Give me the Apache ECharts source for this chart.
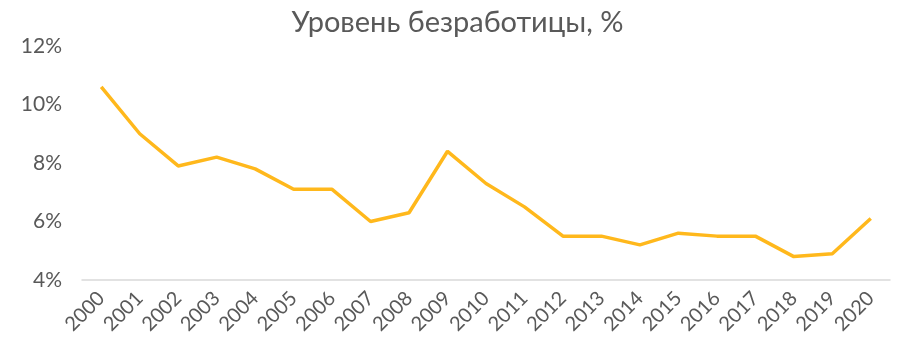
<!DOCTYPE html>
<html><head><meta charset="utf-8">
<script src="https://cdn.jsdelivr.net/npm/echarts@6/dist/echarts.min.js"></script>
<style>html,body{margin:0;padding:0;background:#fff}#c{width:915px;height:353px}</style>
</head><body><div id="c"></div>
<script>
const years = ['2000','2001','2002','2003','2004','2005','2006','2007','2008','2009','2010','2011','2012','2013','2014','2015','2016','2017','2018','2019','2020'];
const unemployment = [10.6,9.0,7.9,8.2,7.8,7.1,7.1,6.0,6.3,8.4,7.3,6.5,5.5,5.5,5.2,5.6,5.5,5.5,4.8,4.9,6.1];
const titleText = 'Уровень безработицы, %';
const chart = echarts.init(document.getElementById('c'));
chart.setOption({
  animation:false,
  title:{text:titleText,left:'center',top:3,textStyle:{fontFamily:'Lato',fontWeight:'normal',fontSize:29,color:'#595959'}},
  grid:{left:82,right:25,top:46,bottom:73},
  xAxis:{type:'category',data:years,boundaryGap:true,
    axisLine:{lineStyle:{color:'#d9d9d9',width:1.5}},axisTick:{show:false},
    axisLabel:{rotate:45,interval:0,fontFamily:'Lato',fontSize:20,color:'#595959',margin:15}},
  yAxis:{type:'value',min:4,max:12,interval:2,
    axisLine:{show:false},axisTick:{show:false},splitLine:{show:false},
    axisLabel:{formatter:'{value}%',fontFamily:'Lato',fontSize:21,color:'#595959',margin:20}},
  series:[{type:'line',data:unemployment,symbol:'none',lineStyle:{color:'#FFB81C',width:3.5},itemStyle:{color:'#FFB81C'}}]
});
</script></body></html>
